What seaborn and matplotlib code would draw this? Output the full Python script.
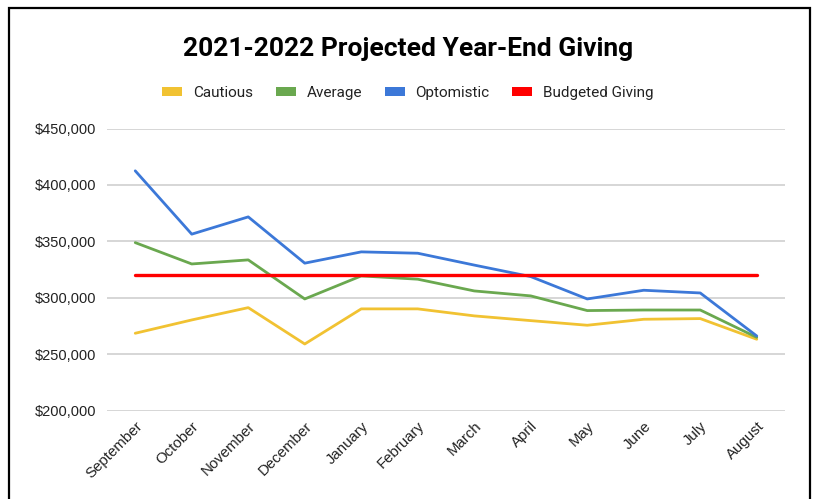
import matplotlib
matplotlib.use("Agg")
import matplotlib.pyplot as plt
import matplotlib.patches as mpatches
import matplotlib.ticker as mticker
import seaborn as sns
import pandas as pd

months = ["September", "October", "November", "December", "January", "February",
          "March", "April", "May", "June", "July", "August"]
cautious = [268600, 280400, 291300, 259100, 290200, 290200, 284000, 279800, 275700, 281000, 281600, 263300]
average = [348900, 330000, 333600, 299000, 319400, 316500, 306100, 301700, 288700, 289200, 289200, 265000]
optimistic = [412500, 356400, 371700, 330700, 340700, 339500, 329000, 318800, 299000, 306700, 304300, 266200]
budgeted = [320000] * 12

series_names = ["Cautious", "Average", "Optomistic", "Budgeted Giving"]
colors = ["#f1c232", "#6aa84f", "#3c78d8", "#ff0000"]

rows = []
for name, vals in zip(series_names, [cautious, average, optimistic, budgeted]):
    for i, (m, v) in enumerate(zip(months, vals)):
        rows.append({"idx": i, "month": m, "value": v, "series": name})
df = pd.DataFrame(rows)

sns.set_theme(style="white")
plt.rcParams["font.family"] = ["Liberation Sans", "DejaVu Sans"]

fig = plt.figure(figsize=(8.16, 4.99), dpi=100)
ax = fig.add_axes([107 / 816, 1 - 410.7 / 499, 678 / 816, (410.7 - 128.5) / 499])

sns.lineplot(data=df, x="idx", y="value", hue="series", hue_order=series_names,
             palette=dict(zip(series_names, colors)), linewidth=2, ax=ax, legend=False)
ax.lines[-1].set_linewidth(2.4)

ax.set_xlim(-0.5, 11.5)
ax.set_ylim(200000, 450000)
ax.set_yticks([200000, 250000, 300000, 350000, 400000, 450000])
ax.yaxis.set_major_formatter(mticker.FuncFormatter(lambda v, p: f"${v:,.0f}"))
ax.set_xticks(range(12))
ax.set_xticklabels(months, rotation=45, ha="right", rotation_mode="anchor")
ax.tick_params(axis="both", length=0, labelsize=10.5, colors="#222222")
ax.tick_params(axis="x", labelsize=10.8)
ax.tick_params(axis="y", pad=8)
ax.tick_params(axis="x", pad=6)
ax.grid(axis="y", color="#cccccc", linewidth=1.1)
ax.set_axisbelow(True)
for s in ax.spines.values():
    s.set_visible(False)
ax.set_xlabel("")
ax.set_ylabel("")

fig.text(0.5, 1 - 49 / 499, "2021-2022 Projected Year-End Giving", ha="center", va="center",
         fontsize=19, fontweight="bold", color="black", family=["Roboto", "DejaVu Sans"])

handles = [mpatches.Patch(facecolor=c, edgecolor="none", label=n) for n, c in zip(series_names, colors)]
leg = fig.legend(handles=handles, loc="center", bbox_to_anchor=(0.5, 1 - 93 / 499), ncol=4,
                 frameon=False, handlelength=1.3, handleheight=0.45, handletextpad=0.7,
                 columnspacing=1.5, prop={"family": ["Roboto", "DejaVu Sans"], "size": 11})
for t in leg.get_texts():
    t.set_color("#222222")

border = mpatches.Rectangle((9 / 816, -0.1), (810 - 9) / 816, 1.1 - 8 / 499, transform=fig.transFigure,
                            fill=False, edgecolor="black", linewidth=1.6, clip_on=False)
fig.patches.append(border)

fig.savefig("out.png", dpi=100, facecolor="white")
